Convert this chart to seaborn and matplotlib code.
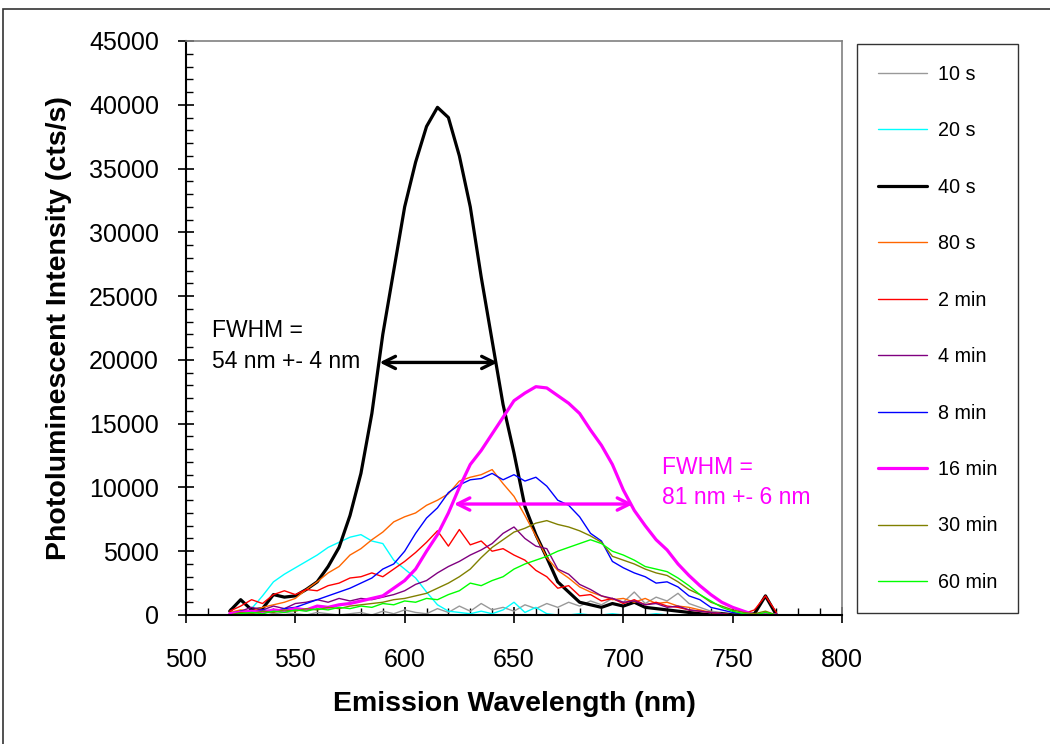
import matplotlib
matplotlib.use("Agg")
import matplotlib.pyplot as plt
from matplotlib.patches import Rectangle
from matplotlib.ticker import MultipleLocator
import pandas as pd
import seaborn as sns

# ---------------- data ----------------
wavelength = list(range(520, 771, 5))  # nm

s10 = [0, 200, 100, 300, 100, 200, 100, 0, 200, 100,
       0, 100, 200, 0, 300, 100, 400, 200, 100, 500,
       200, 700, 300, 900, 400, 600, 300, 800, 500, 900,
       600, 1000, 700, 1100, 800, 1300, 1000, 1800, 900, 1400,
       1100, 1700, 900, 600, 300, 200, 100, 0, 100, 0, 0]
s20 = [300, 1100, 500, 1500, 2600, 3200, 3700, 4200, 4700, 5300,
       5700, 6100, 6300, 5800, 5600, 4300, 3600, 2900, 1800, 800,
       300, 200, 100, 300, 100, 400, 1000, 200, 600, 100,
       0, 0, 100, 0, 0, 100, 0, 0, 0, 100,
       0, 0, 0, 0, 0, 0, 0, 0, 0, 0, 0]
s40 = [300, 1200, 400, 500, 1600, 1400, 1500, 2000, 2600, 3800,
       5300, 7800, 11100, 15800, 22000, 27000, 32000, 35500, 38300, 39800,
       39000, 36000, 32000, 26500, 21500, 16500, 12700, 8500, 6300, 4500,
       2600, 1800, 1000, 800, 600, 900, 700, 1000, 600, 500,
       400, 300, 200, 100, 0, 100, 0, 0, 100, 1500, 0]
s80 = [200, 400, 300, 600, 800, 1000, 1300, 2000, 2600, 3300,
       3800, 4700, 5200, 5900, 6500, 7300, 7700, 8000, 8600, 9000,
       9500, 10500, 10800, 11000, 11400, 10300, 9300, 7800, 6200, 4500,
       3500, 2900, 2200, 1800, 1500, 1200, 1300, 1000, 1300, 900,
       1000, 700, 600, 400, 200, 100, 0, 0, 0, 0, 0]
m2 = [300, 700, 1200, 900, 1600, 1900, 1600, 2000, 1900, 2300,
      2500, 2900, 3000, 3300, 3000, 3600, 4200, 4900, 5700, 6600,
      5400, 6700, 5500, 5800, 5000, 5200, 4700, 4300, 3500, 3000,
      2100, 2300, 1500, 1600, 1100, 1300, 900, 1200, 800, 1000,
      700, 600, 400, 300, 200, 100, 0, 100, 400, 1500, 200]
m4 = [100, 300, 600, 400, 700, 500, 900, 1000, 1200, 1000,
      1300, 1100, 1300, 1200, 1400, 1600, 1900, 2400, 2700, 3300,
      3800, 4200, 4700, 5100, 5600, 6400, 6900, 6000, 5400, 5200,
      3600, 3200, 2400, 2000, 1500, 1300, 1000, 1100, 800, 900,
      600, 700, 400, 300, 200, 100, 0, 0, 0, 100, 0]
m8 = [100, 300, 200, 400, 300, 500, 600, 900, 1200, 1500,
      1800, 2100, 2500, 2900, 3600, 4000, 5000, 6400, 7600, 8400,
      9600, 10200, 10600, 10700, 11100, 10600, 11000, 10500, 10800, 10100,
      9000, 8600, 7700, 6400, 5800, 4200, 3700, 3300, 3000, 2500,
      2600, 2200, 1500, 1200, 600, 400, 200, 100, 0, 0, 0]
m16 = [100, 200, 300, 200, 400, 300, 500, 400, 700, 600,
       800, 900, 1100, 1300, 1500, 2100, 2700, 3600, 5000, 6300,
       8000, 10000, 11800, 12900, 14200, 15500, 16800, 17400, 17900, 17800,
       17200, 16600, 15800, 14500, 13300, 11800, 9800, 8200, 7000, 5900,
       5100, 4000, 3100, 2300, 1600, 1000, 600, 300, 0, 100, 0]
m30 = [0, 200, 100, 300, 200, 400, 300, 500, 400, 600,
       500, 700, 800, 900, 1000, 1200, 1300, 1500, 1700, 2100,
       2500, 3000, 3600, 4500, 5300, 5900, 6500, 6800, 7200, 7400,
       7100, 6900, 6600, 6200, 5700, 4600, 4300, 4000, 3600, 3300,
       3100, 2600, 2000, 1600, 1000, 700, 400, 200, 100, 300, 0]
m60 = [0, 100, 200, 100, 300, 200, 400, 300, 500, 400,
       600, 500, 700, 600, 900, 800, 1100, 1000, 1300, 1200,
       1600, 1900, 2500, 2300, 2700, 3000, 3600, 4000, 4300, 4600,
       5000, 5300, 5600, 5900, 5600, 5000, 4700, 4300, 3800, 3600,
       3400, 2900, 2300, 1600, 1100, 600, 300, 100, 0, 200, 0]

series = [s10, s20, s40, s80, m2, m4, m8, m16, m30, m60]
labels = ["10 s", "20 s", "40 s", "80 s", "2 min", "4 min", "8 min",
          "16 min", "30 min", "60 min"]
colors = ["#999999", "#00FFFF", "#000000", "#FF6600", "#FF0000", "#800080",
          "#0000FF", "#FF00FF", "#808000", "#00FF00"]
widths = [1.0, 1.0, 2.3, 1.0, 1.0, 1.0, 1.0, 2.3, 1.0, 1.0]

x_ticks = [500, 550, 600, 650, 700, 750, 800]
y_ticks = [0, 5000, 10000, 15000, 20000, 25000, 30000, 35000, 40000, 45000]

# ---------------- style ----------------
sns.set_style("white")
plt.rcParams['font.family'] = ['Liberation Sans', 'DejaVu Sans']
plt.rcParams['text.color'] = 'black'
plt.rcParams['axes.labelcolor'] = 'black'
plt.rcParams['xtick.color'] = 'black'
plt.rcParams['ytick.color'] = 'black'

W, H = 1050, 744
fig = plt.figure(figsize=(W / 100, H / 100), dpi=100)
fig.patch.set_facecolor("white")
ax = fig.add_axes([186 / W, (H - 615) / H, 656 / W, 574 / H])

for vals, lab, col, lw in zip(series, labels, colors, widths):
    df = pd.DataFrame({"wl": wavelength, "val": vals})
    sns.lineplot(data=df, x="wl", y="val", ax=ax, color=col, linewidth=lw,
                 label=lab, legend=False)

ax.set_xlim(500, 800)
ax.set_ylim(0, 45000)
ax.set_xticks(x_ticks)
ax.set_yticks(y_ticks)
ax.set_xticklabels([str(t) for t in x_ticks])
ax.set_yticklabels([str(t) for t in y_ticks])
ax.xaxis.set_minor_locator(MultipleLocator(10))
ax.yaxis.set_minor_locator(MultipleLocator(1000))

ax.tick_params(axis="both", which="major", direction="inout", length=11,
               width=1.2, color="black", labelsize=18, labelcolor="black")
ax.tick_params(axis="y", which="major", pad=14)
ax.tick_params(axis="x", which="major", pad=18)
ax.tick_params(axis="both", which="minor", direction="in", length=5,
               width=1.0, color="black")
ax.tick_params(left=True, bottom=True, which="both")

for side in ["left", "bottom"]:
    ax.spines[side].set_color("black")
    ax.spines[side].set_linewidth(1.5)
for side in ["top", "right"]:
    ax.spines[side].set_color("#808080")
    ax.spines[side].set_linewidth(1.2)

ax.set_xlabel("Emission Wavelength (nm)", fontsize=20.5, fontweight="bold",
              labelpad=14, color="black")
ax.set_ylabel("Photoluminescent Intensity (cts/s)", fontsize=20.5,
              fontweight="bold", labelpad=12, color="black")

# FWHM annotations
ax.annotate("", xy=(588.5, 19800), xytext=(642.5, 19800),
            arrowprops=dict(arrowstyle="<->", color="black", lw=2.4,
                            mutation_scale=22, shrinkA=0, shrinkB=0))
ax.text(512, 22300, "FWHM =", fontsize=16.5, color="black", va="center")
ax.text(512, 19850, "54 nm +- 4 nm", fontsize=16.5, color="black", va="center")

ax.annotate("", xy=(622.5, 8700), xytext=(704.5, 8700),
            arrowprops=dict(arrowstyle="<->", color="#FF00FF", lw=2.4,
                            mutation_scale=22, shrinkA=0, shrinkB=0))
ax.text(717.5, 11600, "FWHM =", fontsize=16.5, color="#FF00FF", va="center")
ax.text(717.5, 9250, "81 nm +- 6 nm", fontsize=16.5, color="#FF00FF", va="center")

# legend
handles, labs = ax.get_legend_handles_labels()
leg = fig.legend(handles, labs, loc="upper left",
                 bbox_to_anchor=(857 / W, 1 - 44 / H), fontsize=14.2,
                 frameon=True, fancybox=False, shadow=False,
                 borderpad=1.05, labelspacing=1.9, handlelength=2.5,
                 handletextpad=0.55, borderaxespad=0)
leg.get_frame().set_edgecolor("black")
leg.get_frame().set_linewidth(1.0)
for t in leg.get_texts():
    t.set_color("black")

# outer chart-area border
fig.add_artist(Rectangle((3 / W, -0.1), 1.2, (H - 9) / H + 0.1,
                         transform=fig.transFigure, fill=False,
                         edgecolor="#333333", linewidth=1.2))

fig.savefig("out.png", dpi=100)
